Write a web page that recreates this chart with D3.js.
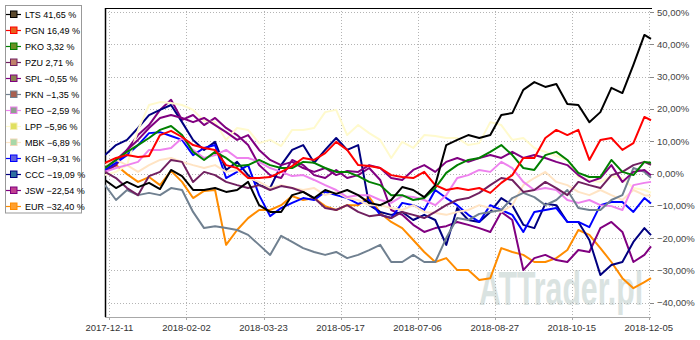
<!DOCTYPE html>
<html>
<head>
<meta charset="utf-8">
<script src="https://cdn.jsdelivr.net/npm/d3@7"></script>
<style>
  html, body { margin: 0; padding: 0; background: #fff; }
  svg { display: block; }
  text { font-family: "Liberation Sans", Arial, sans-serif; }
</style>
</head>
<body>
<svg id="chart" width="700" height="340"></svg>
<script>
// Relative performance since 2017-12-11, in percent, sampled every 5 sessions
const sampleDays = d3.range(0, 246, 5).concat([248]);

const dateLabels = ["2017-12-11", "2018-02-02", "2018-03-23", "2018-05-17",
                    "2018-07-06", "2018-08-27", "2018-10-15", "2018-12-05"];
const dateTickDays = [2, 37, 72, 107, 142, 177, 212, 247];
const percentTicks = [50, 40, 30, 20, 10, 0, -10, -20, -30, -40];

const names = ["LTS", "PGN", "PKO", "PZU", "SPL", "PKN", "PEO", "LPP", "MBK", "KGH", "CCC", "JSW", "EUR"];
const lineColors = ["#000000", "#ff0000", "#008000", "#702060", "#800080", "#708090", "#ee82ee",
                    "#fffacd", "#ffe4c4", "#0000ff", "#000080", "#800080", "#ff8c00"];
const markerColors = ["#5c4a2e", "#e8601c", "#6b8e23", "#c0806a", "#8a8050", "#a86050", "#8fa08f",
                      "#e0e060", "#a8d8a8", "#6060e0", "#3070a0", "#c04090", "#ffa030"];

const lts = [-2.0, -4.5, -2.6, -4.2, -2.9, -4.8, 1.1, -0.8, -5.1, -5.1, -4.5, -5.7, -5.1, -2.6, -9.8, -11.9, -11.9,
  -6.7, -5.7, -7.6, -5.1, -6.3, -5.1, -6.7, -9.1, -9.8, -8.2, -4.2, -5.1, -7.3, -3.6, 8.8, 10.4, 11.9, 11.0, 11.9,
  18.1, 18.7, 25.9, 28.3, 26.8, 27.7, 21.5, 21.2, 15.9, 19.0, 26.5, 24.9, 33.6, 42.9, 41.65];
const pgn = [3.3, 4.8, 5.7, 5.1, 5.4, 11.9, 13.2, 11.3, 8.8, 7.9, 7.3, 2.6, 1.7, -1.4, -1.4, -1.1, 0.5,
  2.3, 4.8, 4.2, 6.3, 9.8, 7.3, 2.6, 2.3, 1.7, -0.5, -1.1, -1.4, 0.5, -3.6, -5.1, -4.5, -5.1, -4.5, -6.0,
  -2.9, -0.5, 4.8, 4.8, 11.0, 13.5, 11.9, 13.5, 4.2, 10.4, 11.0, 7.3, 9.4, 17.5, 16.49];
const pko = [1.7, 4.2, 6.7, 8.8, 11.0, 13.5, 14.7, 11.9, 6.7, 4.2, 6.7, 4.8, 2.3, 2.6, 4.2, 2.6, 1.7,
  1.7, 3.6, 3.3, 1.7, 0.5, 0.5, -0.8, -2.6, -3.6, -6.7, -6.7, -8.2, -7.6, -4.5, 0.2, 2.6, 4.2, 4.8, 6.7,
  8.8, 5.7, 1.7, 1.1, 5.7, 6.7, 4.2, 0.2, -1.1, -1.1, 4.2, 0.5, -0.5, 3.6, 3.32];
const pzu = [0.5, -1.4, -4.5, -6.7, -0.8, 0.5, 4.2, 3.6, -2.6, 0.5, -0.5, -2.6, -3.6, -4.5, -3.6, -5.1, -3.9,
  -4.5, -5.7, -7.6, -10.7, -11.3, -9.8, -11.9, -13.2, -12.8, -13.8, -11.9, -12.8, -13.8, -11.9, -9.8, -8.2,
  -7.6, -6.0, -3.6, -1.4, -2.0, -5.7, -5.1, -2.6, -4.5, -6.7, -2.6, -3.6, -4.5, -0.5, 0.5, 2.6, 3.6, 2.71];
const spl = [1.7, 4.2, 7.3, 10.4, 14.1, 17.2, 18.1, 17.2, 15.9, 17.2, 15.0, 12.8, 10.4, 11.9, 7.3, 4.2, 2.6,
  3.6, 1.7, 0.5, 1.7, -0.5, 0.8, 0.5, 2.6, 1.7, -1.4, -2.0, 1.1, 2.6, 0.5, 3.6, 4.8, 3.6, 4.8, 5.7,
  4.8, 6.7, 4.8, 5.7, 4.8, 3.6, 2.6, -0.5, -2.6, -1.4, 2.6, -2.6, 0.5, 1.1, -0.55];
const pkn = [-3.6, -8.2, -5.1, -6.7, -6.0, -6.7, -4.5, -5.1, -11.9, -16.9, -16.3, -16.9, -17.5, -19.0, -22.1,
  -25.2, -19.3, -21.2, -23.1, -24.3, -25.2, -24.3, -26.2, -25.2, -23.7, -22.1, -27.4, -27.4, -25.2, -27.4,
  -27.4, -20.0, -13.8, -14.4, -12.5, -11.9, -11.3, -7.6, -6.0, -7.3, -9.8, -8.2, -5.1, -10.7, -11.3, -11.3,
  -8.2, -6.7, 1.7, 0.5, -1.35];
const peo = [0.5, 1.7, 2.6, 3.6, 7.3, 7.3, 7.9, 11.0, 7.3, 4.8, 5.7, 7.3, 4.8, 4.8, 3.6, 1.7, 0.5,
  -0.8, -0.5, -2.0, -3.6, -5.1, -7.3, -6.7, -6.7, -8.2, -9.1, -7.0, -7.3, -8.2, -9.8, -6.7, -1.4, -0.5, 1.1, 0.5,
  3.6, 1.7, -2.6, -5.1, -4.5, -5.1, -8.2, -9.1, -8.2, -9.8, -10.1, -11.3, -3.6, -2.9, -2.59];
const lpp = [-0.5, 0.5, 2.6, 13.5, 21.2, 22.1, 21.8, 21.2, 19.7, 16.3, 15.9, 10.4, 14.1, 13.5, 9.4, 10.4, 8.5,
  13.5, 13.5, 14.1, 19.0, 19.7, 11.9, 15.0, 12.5, 10.4, 4.8, 9.8, 7.9, 11.9, 11.6, 11.0, 11.0, 8.8, 9.4, 15.9,
  15.0, 10.4, 11.0, 7.9, 6.7, 5.4, 4.2, -1.1, -2.0, -2.6, -0.8, -1.4, -4.5, -5.1, -5.96];
const mbk = [2.6, 4.2, 2.6, 0.5, 2.6, 4.2, 4.8, 3.6, 2.6, 1.7, 2.6, 0.5, 1.1, -1.4, -2.6, -4.5, -3.6,
  -4.5, -5.1, -4.5, -6.7, -5.7, -7.6, -8.2, -9.8, -9.8, -10.7, -11.3, -9.8, -11.9, -12.2, -12.8, -11.9, -11.3,
  -9.8, -10.7, -11.9, -9.8, -3.6, -1.4, 0.5, -2.6, -3.6, -5.7, -6.7, -5.1, -6.7, -8.2, -5.1, -6.7, -6.89];
const kgh = [1.1, 3.3, 5.7, 8.8, 12.5, 12.8, 11.6, 10.4, 5.7, 7.9, 8.8, -1.4, 0.5, 2.6, -6.7, -13.2, -10.7,
  -9.1, -7.6, -8.2, -5.7, -6.7, -7.6, -9.4, -8.2, -12.8, -13.8, -9.1, -9.8, -11.3, -5.1, -7.6, -9.8, -12.8,
  -15.0, -9.8, -11.3, -12.8, -18.1, -11.9, -11.3, -10.7, -15.0, -15.0, -16.6, -9.8, -8.8, -8.8, -11.9, -7.6, -9.31];
const ccc = [5.7, 8.8, 10.4, 14.1, 18.1, 19.7, 21.2, 15.9, 10.4, 7.3, 9.8, 1.1, 3.6, -0.5, -3.6, -4.5, 2.6,
  7.3, 8.8, 3.3, 7.3, 11.0, 7.3, 8.8, -9.8, -11.9, -12.8, -11.9, -14.4, -12.8, -14.4, -22.1, -10.7, -14.4,
  -15.0, -11.9, -7.6, -9.8, -15.9, -16.9, -9.4, -9.8, -15.0, -15.0, -20.6, -31.4, -28.3, -27.4, -21.2, -16.9, -19.09];
const jsw = [0.5, 2.6, 7.3, 11.9, 15.0, 19.7, 22.8, 16.6, 18.1, 15.0, 17.2, 14.1, 11.9, 8.8, 2.6, -0.5, -1.4,
  4.2, 2.6, -0.5, -1.4, 1.1, -1.4, -0.5, 1.7, -2.0, -11.3, -12.8, -15.9, -18.1, -16.9, -16.3, -15.0, -15.9,
  -16.9, -18.1, -11.9, -14.4, -29.9, -26.2, -25.2, -26.8, -27.4, -23.7, -24.3, -16.9, -15.0, -18.1, -27.4,
  -25.2, -22.54];
const eur = [1.1, 2.6, -0.2, -2.6, -1.1, -3.6, 0.8, -2.6, -7.6, -5.4, -5.1, -22.1, -17.5, -13.8, -11.3, -11.3,
  -9.8, -7.0, -8.2, -7.6, -10.1, -11.3, -9.8, -9.8, -7.3, -12.2, -15.0, -16.9, -20.6, -24.3, -27.4, -26.2,
  -29.9, -29.9, -33.0, -32.4, -23.1, -24.3, -25.2, -27.4, -27.4, -26.2, -23.7, -17.5, -19.0, -23.1, -27.4,
  -32.4, -35.5, -33.6, -32.40];

const seriesValues = [lts, pgn, pko, pzu, spl, pkn, peo, lpp, mbk, kgh, ccc, jsw, eur];

const svg = d3.select("#chart");
const plot = { left: 105, right: 651, top: 8, bottom: 317 };

const x = d3.scaleLinear().domain([0, 248]).range([plot.left, plot.right]);
const y = d3.scaleLinear().domain([-40, 50]).range([302.7, 12]);

const fmt = v => d3.format(".2f")(v).replace(".", ",");

// watermark behind the data, squeezed horizontally
svg.append("g")
  .attr("transform", "translate(561,305) scale(0.63,1)")
  .append("text")
  .attr("x", 0).attr("y", 0)
  .attr("text-anchor", "middle")
  .attr("font-size", 48).attr("font-weight", "bold")
  .attr("fill", "#dae3e1")
  .text("ATTrader.pl");

// dotted grid
const grid = svg.append("g").attr("stroke", "#b4b4b4").attr("stroke-dasharray", "1,2").attr("stroke-width", 1);
grid.selectAll("line.h").data(percentTicks).join("line")
  .attr("class", "h")
  .attr("x1", plot.left).attr("x2", plot.right)
  .attr("y1", d => Math.round(y(d)) + 0.5).attr("y2", d => Math.round(y(d)) + 0.5);
grid.selectAll("line.v").data(dateTickDays).join("line")
  .attr("class", "v")
  .attr("x1", d => Math.round(x(d)) + 0.5).attr("x2", d => Math.round(x(d)) + 0.5)
  .attr("y1", plot.top).attr("y2", plot.bottom);

// frame: black top and left, grey bottom
svg.append("line").attr("x1", plot.left).attr("x2", plot.right + 1)
  .attr("y1", plot.top + 0.5).attr("y2", plot.top + 0.5).attr("stroke", "#000");
svg.append("line").attr("x1", plot.left + 0.5).attr("x2", plot.left + 0.5)
  .attr("y1", plot.top).attr("y2", plot.bottom).attr("stroke", "#000").attr("stroke-width", 1.5);
svg.append("line").attr("x1", plot.left).attr("x2", plot.right)
  .attr("y1", plot.bottom + 0.5).attr("y2", plot.bottom + 0.5).attr("stroke", "#a8a8a8");

// right axis with percentage labels
const yAxis = svg.append("g");
yAxis.selectAll("line").data(percentTicks).join("line")
  .attr("x1", plot.right - 1).attr("x2", plot.right + 3)
  .attr("y1", d => Math.round(y(d)) + 0.5).attr("y2", d => Math.round(y(d)) + 0.5)
  .attr("stroke", "#888");
yAxis.selectAll("text").data(percentTicks).join("text")
  .attr("x", 657).attr("y", d => y(d) + 3.5)
  .attr("font-size", 9.5).attr("fill", "#444")
  .text(d => fmt(d) + "%");

// bottom axis with date labels
const xAxis = svg.append("g");
xAxis.selectAll("line").data(dateTickDays).join("line")
  .attr("x1", d => Math.round(x(d)) + 0.5).attr("x2", d => Math.round(x(d)) + 0.5)
  .attr("y1", plot.bottom).attr("y2", plot.bottom + 3)
  .attr("stroke", "#a8a8a8");
xAxis.selectAll("text").data(dateTickDays).join("text")
  .attr("x", d => x(d)).attr("y", 331)
  .attr("text-anchor", "middle")
  .attr("font-size", 9.5).attr("fill", "#333")
  .text((d, i) => dateLabels[i]);

// data lines, clipped to the plot area
svg.append("clipPath").attr("id", "plot-clip")
  .append("rect").attr("x", plot.left).attr("y", plot.top)
  .attr("width", plot.right - plot.left + 2).attr("height", plot.bottom - plot.top);

const line = d3.line()
  .x((d, i) => x(sampleDays[i]))
  .y(d => y(d));

const order = d3.range(names.length).reverse();
svg.append("g").attr("clip-path", "url(#plot-clip)")
  .selectAll("path").data(order).join("path")
  .attr("d", i => line(seriesValues[i]))
  .attr("fill", "none")
  .attr("stroke", i => lineColors[i])
  .attr("stroke-width", 2)
  .attr("stroke-linejoin", "round");

// legend
const legend = svg.append("g");
legend.append("rect")
  .attr("x", 5.5).attr("y", 5.5).attr("width", 76).attr("height", 207.5)
  .attr("fill", "#fff").attr("stroke", "#999");
const rows = legend.selectAll("g.row").data(names).join("g")
  .attr("class", "row")
  .attr("transform", (d, i) => `translate(0,${14 + i * 16})`);
rows.append("line")
  .attr("x1", 6).attr("x2", 21).attr("y1", 0.5).attr("y2", 0.5)
  .attr("stroke", (d, i) => lineColors[i]).attr("stroke-width", 1.2);
rows.append("rect")
  .attr("x", 10.5).attr("y", -3).attr("width", 6.5).attr("height", 6.5)
  .attr("fill", (d, i) => markerColors[i])
  .attr("stroke", (d, i) => lineColors[i] === "#fffacd" ? "#f5eeb0" : (lineColors[i] === "#ffe4c4" ? "#f2d8b8" : lineColors[i]));
rows.append("text")
  .attr("x", 25).attr("y", 3.8)
  .attr("font-size", 9).attr("fill", "#000")
  .text((d, i) => `${d} ${fmt(seriesValues[i][seriesValues[i].length - 1])} %`);
</script>
</body>
</html>
